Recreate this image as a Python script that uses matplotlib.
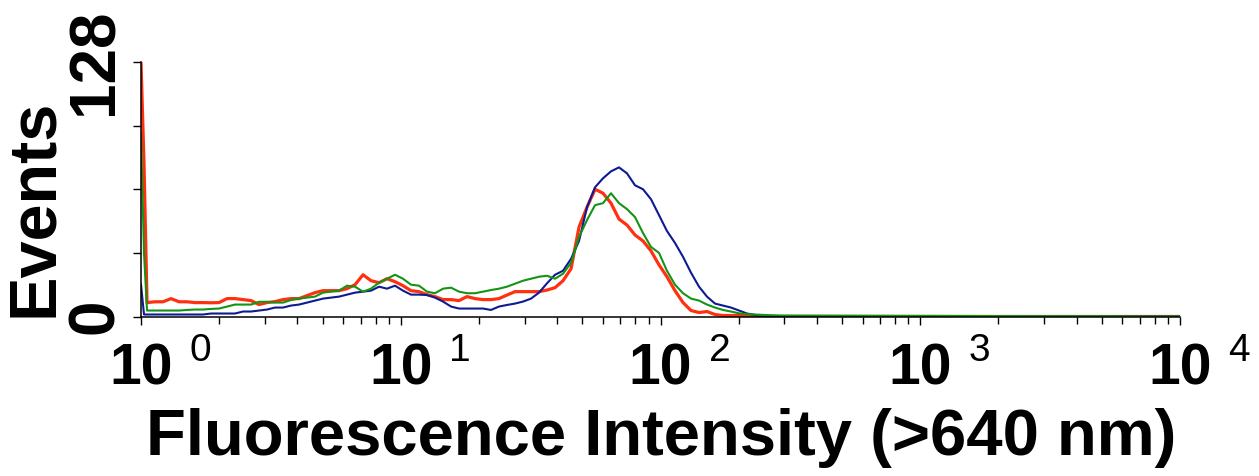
import matplotlib
matplotlib.use("Agg")
import matplotlib.pyplot as plt
import matplotlib.transforms as mtransforms
from matplotlib.ticker import LogLocator, NullFormatter

# ---------------- data ----------------
intensity = [1.000, 1.027, 1.055, 1.132, 1.215, 1.305, 1.401, 1.504, 1.614, 1.733,
             1.860, 1.997, 2.144, 2.301, 2.470, 2.652, 2.847, 3.056, 3.281, 3.522,
             3.781, 4.059, 4.357, 4.677, 5.021, 5.390, 5.786, 6.211, 6.668, 7.158,
             7.684, 8.249, 8.855, 9.504, 10.20, 10.95, 11.76, 12.62, 13.55, 14.55,
             15.62, 16.76, 17.99, 19.32, 20.74, 22.26, 23.89, 25.65, 27.54, 29.56,
             31.73, 34.06, 36.57, 39.26, 42.14, 45.24, 48.57, 52.14, 55.97, 60.06,
             64.48, 69.22, 74.30, 79.76, 85.62, 91.91, 98.67, 105.9, 113.7, 122.1,
             131.1, 140.7, 151.0, 162.1, 174.0, 186.8, 200.6, 215.3, 231.1, 248.1,
             288.4, 10000.0]

red_events = [128, 77, 7, 7.4, 7.4, 9, 7.4, 7.4, 7, 7,
              6.9, 7, 9, 9, 8.5, 8, 6, 7, 7.5, 8.5,
              9, 9, 10.5, 12, 13, 13, 13, 14, 16, 21,
              18, 17, 19, 17.5, 15.5, 13, 12.5, 11, 10, 8.5,
              8.5, 8, 10, 9, 8.5, 8.5, 9, 10.8, 12.5, 12.5,
              12.5, 12.5, 13.3, 14.5, 18, 24, 45, 55, 64, 62,
              57, 49, 46, 41, 38, 33, 26, 20, 13, 7,
              3, 2, 2.5, 1, 0.5, 0.5, 0.5, 0.5, 0, 0,
              0, 0]

blue_events = [16, 1, 1, 1, 1, 1, 1, 1, 1, 1,
               1.5, 1.5, 1.5, 1.5, 2.5, 2.5, 3, 3.5, 4.5, 4.5,
               5.5, 6, 7, 8, 9, 9.5, 10, 11, 12, 12.5,
               13, 15, 14, 15.5, 13, 11, 11, 10.8, 9.5, 7.5,
               5, 4, 4, 4, 4, 3.3, 5, 5.8, 6.5, 7.5,
               9, 12, 16.7, 21, 23, 29, 38, 55, 65, 69.5,
               73, 75, 72, 66, 64, 59, 51, 43, 37, 30,
               22, 15, 10, 6.5, 5.5, 4.5, 3, 1.5, 0.8, 0.3,
               0, 0]

green_events = [92, 32, 3, 3, 3, 3, 3, 3.3, 3.5, 3.5,
                3.8, 4, 5, 6, 6, 6, 7.4, 7.4, 7, 7,
                8.3, 9, 9.5, 10, 12, 12.5, 13, 15.5, 15, 12.5,
                14, 17, 19, 21, 19, 16, 15.5, 12.5, 11.7, 14,
                14.5, 12.5, 11.7, 11.7, 12.5, 13.3, 14, 15, 16.5, 18,
                19, 20, 20.5, 19, 21.5, 27, 40, 48.5, 56, 57,
                62, 57, 54, 50, 42, 35, 32, 23, 16, 11.7,
                9, 8, 6, 4.5, 3.3, 2.5, 1.6, 1.2, 1, 0.8,
                0.5, 0]

xtick_values = [1, 10, 100, 1000, 10000]
xtick_exponents = ["0", "1", "2", "3", "4"]
ytick_values = [0, 32, 64, 96, 128]
ytick_labels = ["0", "", "", "", "128"]

# ---------------- figure ----------------
W, H = 1259, 476
fig = plt.figure(figsize=(W / 100, H / 100), dpi=100)
ax = fig.add_axes([141 / W, (H - 316.5) / H, 1039 / W, 254.5 / H])

FONT = "Liberation Sans"

ax.plot(intensity, red_events, color="#ff3010", lw=2.3, zorder=2)
ax.plot(intensity, blue_events, color="#0c1a94", lw=1.5, zorder=3)
ax.plot(intensity, green_events, color="#149414", lw=1.5, zorder=4)

ax.set_xscale("log")
ax.set_xlim(1, 10000)
ax.set_ylim(0, 128)

for s in ("top", "right"):
    ax.spines[s].set_visible(False)
for s in ("left", "bottom"):
    ax.spines[s].set_linewidth(1.1)
    ax.spines[s].set_color("black")
    ax.spines[s].set_zorder(5)

# x ticks
ax.set_xticks(xtick_values)
ax.xaxis.set_minor_locator(LogLocator(base=10, subs=range(2, 10)))
ax.xaxis.set_minor_formatter(NullFormatter())
ax.set_xticklabels([""] * len(xtick_values))
ax.tick_params(axis="x", which="major", direction="out", length=6, width=1.0)
ax.tick_params(axis="x", which="minor", direction="out", length=5, width=1.0)

trans = mtransforms.blended_transform_factory(ax.transData, ax.transAxes)
for v, e in zip(xtick_values, xtick_exponents):
    ax.text(v, -0.269, "10", transform=trans, ha="center", va="baseline",
            fontsize=41, fontweight="bold", family=FONT, clip_on=False)
    ax.annotate(e, xy=(v, -0.176), xycoords=trans, xytext=(35, 0),
                textcoords="offset points", ha="left", va="baseline",
                fontsize=28, fontweight="normal", family=FONT, annotation_clip=False)

# y ticks
ax.set_yticks(ytick_values)
ax.set_yticklabels(ytick_labels)
ax.tick_params(axis="y", direction="out", length=6, width=1.0, pad=5)
for lbl in ax.get_yticklabels():
    lbl.set_rotation(90)
    lbl.set_va("center")
    lbl.set_ha("right")
    lbl.set_fontsize(46)
    lbl.set_fontweight("bold")
    lbl.set_family(FONT)

# axis labels
ax.set_ylabel("Events", fontsize=48, fontweight="bold", family=FONT)
ax.yaxis.label.set_rotation_mode("default")
ax.yaxis.label.set_va("center")
ax.yaxis.label.set_ha("center")
ax.yaxis.set_label_coords(-0.102, 0.426)

ax.set_xlabel("Fluorescence Intensity (>640 nm)", fontsize=47, fontweight="bold", family=FONT)
ax.xaxis.label.set_va("center")
ax.xaxis.label.set_ha("center")
ax.xaxis.set_label_coords(0.501, -0.477)

fig.savefig("out.png", dpi=100)
